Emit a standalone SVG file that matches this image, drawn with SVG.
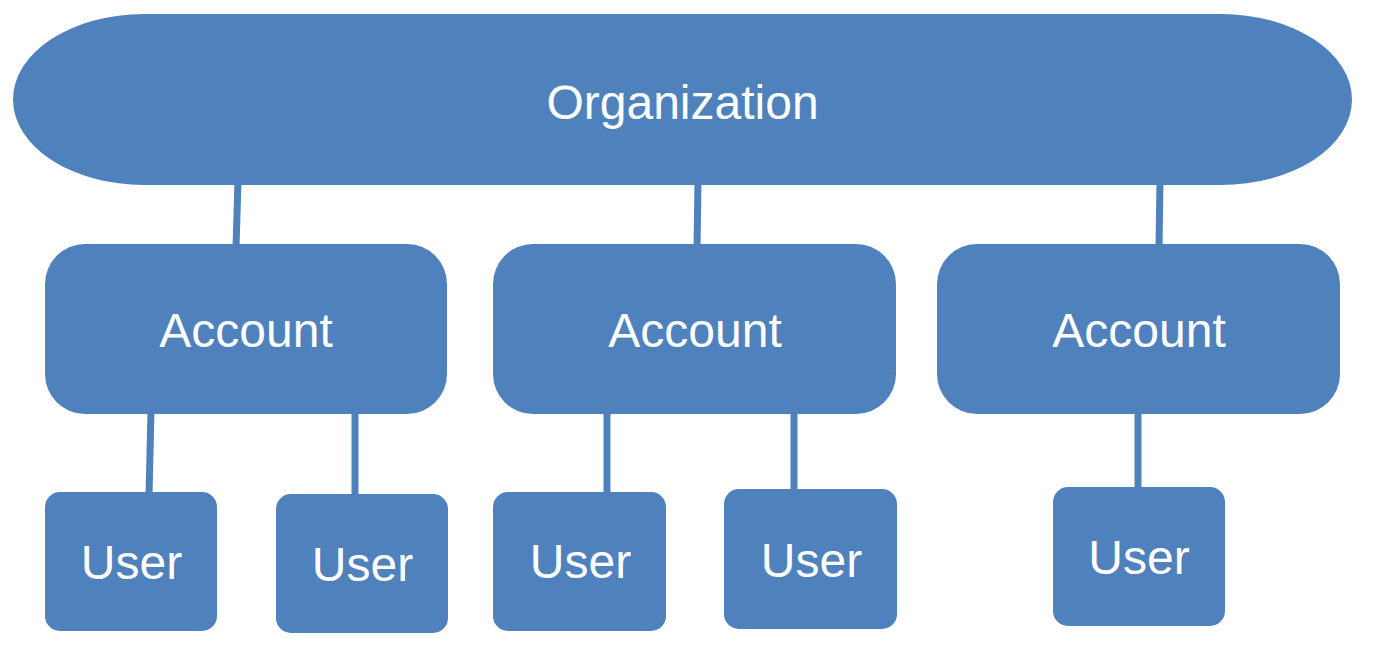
<svg xmlns="http://www.w3.org/2000/svg" width="1383" height="654" viewBox="0 0 1383 654">
<style>
.box{fill:#4f81bd;}
.lbl{fill:#ffffff;font-family:"Liberation Sans",Arial,sans-serif;font-size:48px;text-anchor:middle;}
.conn{stroke:#4f81bd;stroke-width:7;fill:none;}
</style>
<rect width="1383" height="654" fill="#ffffff"/>
<g id="connectors">
<line class="conn" x1="238" y1="180" x2="236" y2="248"/>
<line class="conn" x1="698" y1="180" x2="697" y2="248"/>
<line class="conn" x1="1160" y1="180" x2="1159" y2="248"/>
<line class="conn" x1="151" y1="410" x2="149" y2="496"/>
<line class="conn" x1="355" y1="410" x2="355" y2="498"/>
<line class="conn" x1="607" y1="410" x2="607" y2="496"/>
<line class="conn" x1="794" y1="410" x2="794" y2="493"/>
<line class="conn" x1="1138" y1="410" x2="1138" y2="491"/>
</g>
<g id="organization">
<rect class="box" x="13" y="14" width="1339" height="171" rx="131" ry="85.5"/>
<text class="lbl" x="682.5" y="119">Organization</text>
</g>
<g id="account1">
<rect class="box" x="45" y="244" width="402" height="170" rx="40" ry="40"/>
<text class="lbl" x="246" y="347">Account</text>
</g>
<g id="account2">
<rect class="box" x="493" y="244" width="403" height="170" rx="40" ry="40"/>
<text class="lbl" x="695" y="347">Account</text>
</g>
<g id="account3">
<rect class="box" x="937" y="244" width="403" height="170" rx="40" ry="40"/>
<text class="lbl" x="1139" y="347">Account</text>
</g>
<g id="user1">
<rect class="box" x="45" y="492" width="172" height="139" rx="15" ry="15"/>
<text class="lbl" x="131.5" y="579">User</text>
</g>
<g id="user2">
<rect class="box" x="276" y="494" width="172" height="139" rx="15" ry="15"/>
<text class="lbl" x="362.5" y="581">User</text>
</g>
<g id="user3">
<rect class="box" x="493" y="492" width="173" height="139" rx="15" ry="15"/>
<text class="lbl" x="580.5" y="578">User</text>
</g>
<g id="user4">
<rect class="box" x="724" y="489" width="173" height="140" rx="15" ry="15"/>
<text class="lbl" x="811.5" y="577">User</text>
</g>
<g id="user5">
<rect class="box" x="1053" y="487" width="172" height="139" rx="15" ry="15"/>
<text class="lbl" x="1139" y="574">User</text>
</g>
</svg>
